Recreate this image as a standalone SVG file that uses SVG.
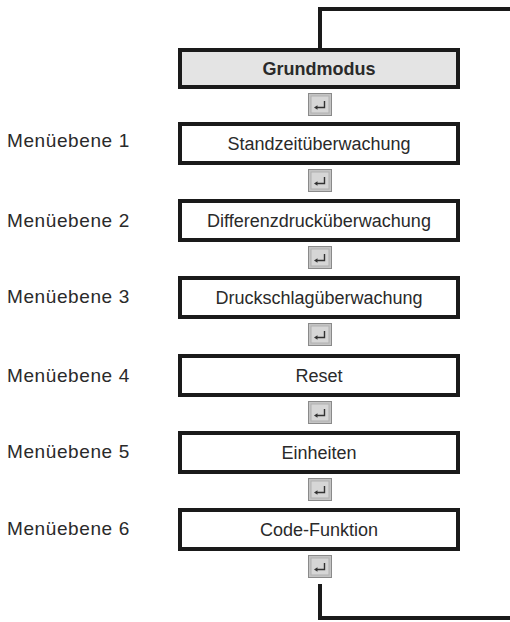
<svg xmlns="http://www.w3.org/2000/svg" width="510" height="622" viewBox="0 0 510 622">
<style>
.box{fill:#fff;stroke:#1a1a1a;stroke-width:4}
.grund{fill:#e4e4e4}
.t{font-family:"Liberation Sans",Arial,sans-serif;font-size:18px;fill:#2a2a2a;text-anchor:middle}
.b{font-weight:bold}
.lbl{font-family:"Liberation Sans",Arial,sans-serif;font-size:19px;fill:#2a2a2a;letter-spacing:0.6px}
.con{fill:none;stroke:#1a1a1a;stroke-width:4}
</style>
<defs>
<g id="key">
<rect x="0.5" y="0.5" width="23" height="22" fill="#c4c4c4" stroke="#8a8a8a" stroke-width="1"/>
<rect x="3" y="3" width="18" height="17" fill="#d6d6d6" stroke="#b0b0b0" stroke-width="1"/>
<path d="M16.5,8 V14.5 H8" fill="none" stroke="#333" stroke-width="1.4"/>
<path d="M6,14.5 L9.5,12.3 L9.5,16.7 Z" fill="#333"/>
</g>
</defs>
<g id="connectors">
<path class="con" d="M320,48 V9 H510"/>
<path class="con" d="M320,584 V618 H510"/>
<use href="#key" x="308" y="93"/>
<use href="#key" x="308" y="169"/>
<use href="#key" x="308" y="246"/>
<use href="#key" x="308" y="323"/>
<use href="#key" x="308" y="401"/>
<use href="#key" x="308" y="478"/>
<use href="#key" x="308" y="555"/>
</g>
<g id="grundmodus">
<rect class="box grund" x="180" y="50" width="278" height="37"/>
<text class="t b" x="319" y="74.5">Grundmodus</text>
</g>
<g id="ebene1">
<text class="lbl" x="7" y="147">Menüebene 1</text>
<rect class="box" x="180" y="124" width="278" height="39"/>
<text class="t" x="319" y="150">Standzeitüberwachung</text>
</g>
<g id="ebene2">
<text class="lbl" x="7" y="227">Menüebene 2</text>
<rect class="box" x="180" y="201" width="278" height="39"/>
<text class="t" x="319" y="227">Differenzdrucküberwachung</text>
</g>
<g id="ebene3">
<text class="lbl" x="7" y="303">Menüebene 3</text>
<rect class="box" x="180" y="278" width="278" height="39"/>
<text class="t" x="319" y="304">Druckschlagüberwachung</text>
</g>
<g id="ebene4">
<text class="lbl" x="7" y="382">Menüebene 4</text>
<rect class="box" x="180" y="356" width="278" height="39"/>
<text class="t" x="319" y="382">Reset</text>
</g>
<g id="ebene5">
<text class="lbl" x="7" y="458">Menüebene 5</text>
<rect class="box" x="180" y="433" width="278" height="39"/>
<text class="t" x="319" y="459">Einheiten</text>
</g>
<g id="ebene6">
<text class="lbl" x="7" y="535">Menüebene 6</text>
<rect class="box" x="180" y="510" width="278" height="39"/>
<text class="t" x="319" y="536">Code-Funktion</text>
</g>
</svg>
